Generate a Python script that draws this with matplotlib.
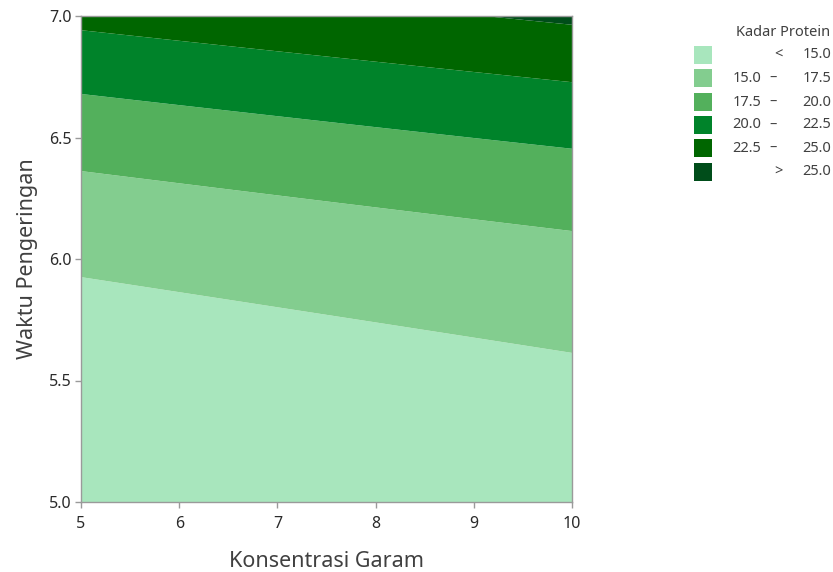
import numpy as np
import matplotlib
matplotlib.use("Agg")
import matplotlib.pyplot as plt
from matplotlib.colors import ListedColormap, BoundaryNorm
from matplotlib.patches import Rectangle

plt.rcParams['font.family'] = ['Noto Sans', 'DejaVu Sans']

# Fitted response surface: Kadar Protein = f(Konsentrasi Garam, Waktu Pengeringan)
coef_const = 92.14
coef_x = -0.73
coef_y = -30.14
coef_yy = 2.85
coef_xy = 0.17

x_range = [5, 10]
y_range = [5.0, 7.0]
levels = [15.0, 17.5, 20.0, 22.5, 25.0]
colors = ['#a8e6bd', '#83cd8f', '#53b05c', '#00832a', '#006600', '#004d1a']
legend_left = ['', '15.0', '17.5', '20.0', '22.5', '']
legend_mid = ['<', '–', '–', '–', '–', '>']
legend_right = ['15.0', '17.5', '20.0', '22.5', '25.0', '25.0']
x_ticks = [5, 6, 7, 8, 9, 10]
y_ticks = [5.0, 5.5, 6.0, 6.5, 7.0]

W, H = 833, 572
fig = plt.figure(figsize=(W / 100, H / 100), dpi=100)
ax = fig.add_axes([81 / W, 1 - 502 / H, (572 - 81) / W, (502 - 16) / H])

xg = np.linspace(x_range[0], x_range[1], 400)
yg = np.linspace(y_range[0], y_range[1], 400)
X, Y = np.meshgrid(xg, yg)
Z = coef_const + coef_x * X + coef_y * Y + coef_yy * Y ** 2 + coef_xy * X * Y

bounds = [-1e9] + levels + [1e9]
cmap = ListedColormap(colors)
norm = BoundaryNorm(bounds, cmap.N)
ax.contourf(X, Y, Z, levels=bounds, cmap=cmap, norm=norm, antialiased=True)

ax.set_xlim(x_range)
ax.set_ylim(y_range)
ax.set_xticks(x_ticks)
ax.set_xticklabels([str(t) for t in x_ticks])
ax.set_yticks(y_ticks)
ax.set_yticklabels([f"{t:.1f}" for t in y_ticks])
for s in ax.spines.values():
    s.set_color('#9a9a9a')
    s.set_linewidth(1.0)
ax.tick_params(direction='out', length=4, width=1, color='#9a9a9a',
               labelsize=11.5, labelcolor='#2a2a2a', pad=2.5)
ax.tick_params(axis='x', pad=6)

ax.set_xlabel('Konsentrasi Garam', fontsize=15.5, color='#404040', labelpad=14)
ax.set_ylabel('Waktu Pengeringan', fontsize=15.5, color='#404040', labelpad=8)

# Legend drawn by hand
fig.text(830 / W, 1 - 33 / H, 'Kadar Protein', ha='right', va='center',
         fontsize=10.5, color='#404040')
row_y = [55, 78, 102, 125, 148, 172]
for i, ry in enumerate(row_y):
    fig.patches.append(Rectangle((694 / W, 1 - (ry + 9) / H), 18 / W, 18 / H,
                                 transform=fig.transFigure, facecolor=colors[i],
                                 edgecolor='none'))
    yy = 1 - ry / H
    if legend_left[i]:
        fig.text(761 / W, yy, legend_left[i], ha='right', va='center',
                 fontsize=10.5, color='#404040')
    fig.text((778 if i in (0, 5) else 773) / W, yy, legend_mid[i],
             ha='center', va='center', fontsize=10.5, color='#404040')
    fig.text(831 / W, yy, legend_right[i], ha='right', va='center',
             fontsize=10.5, color='#404040')

fig.savefig('out.png', dpi=100)
